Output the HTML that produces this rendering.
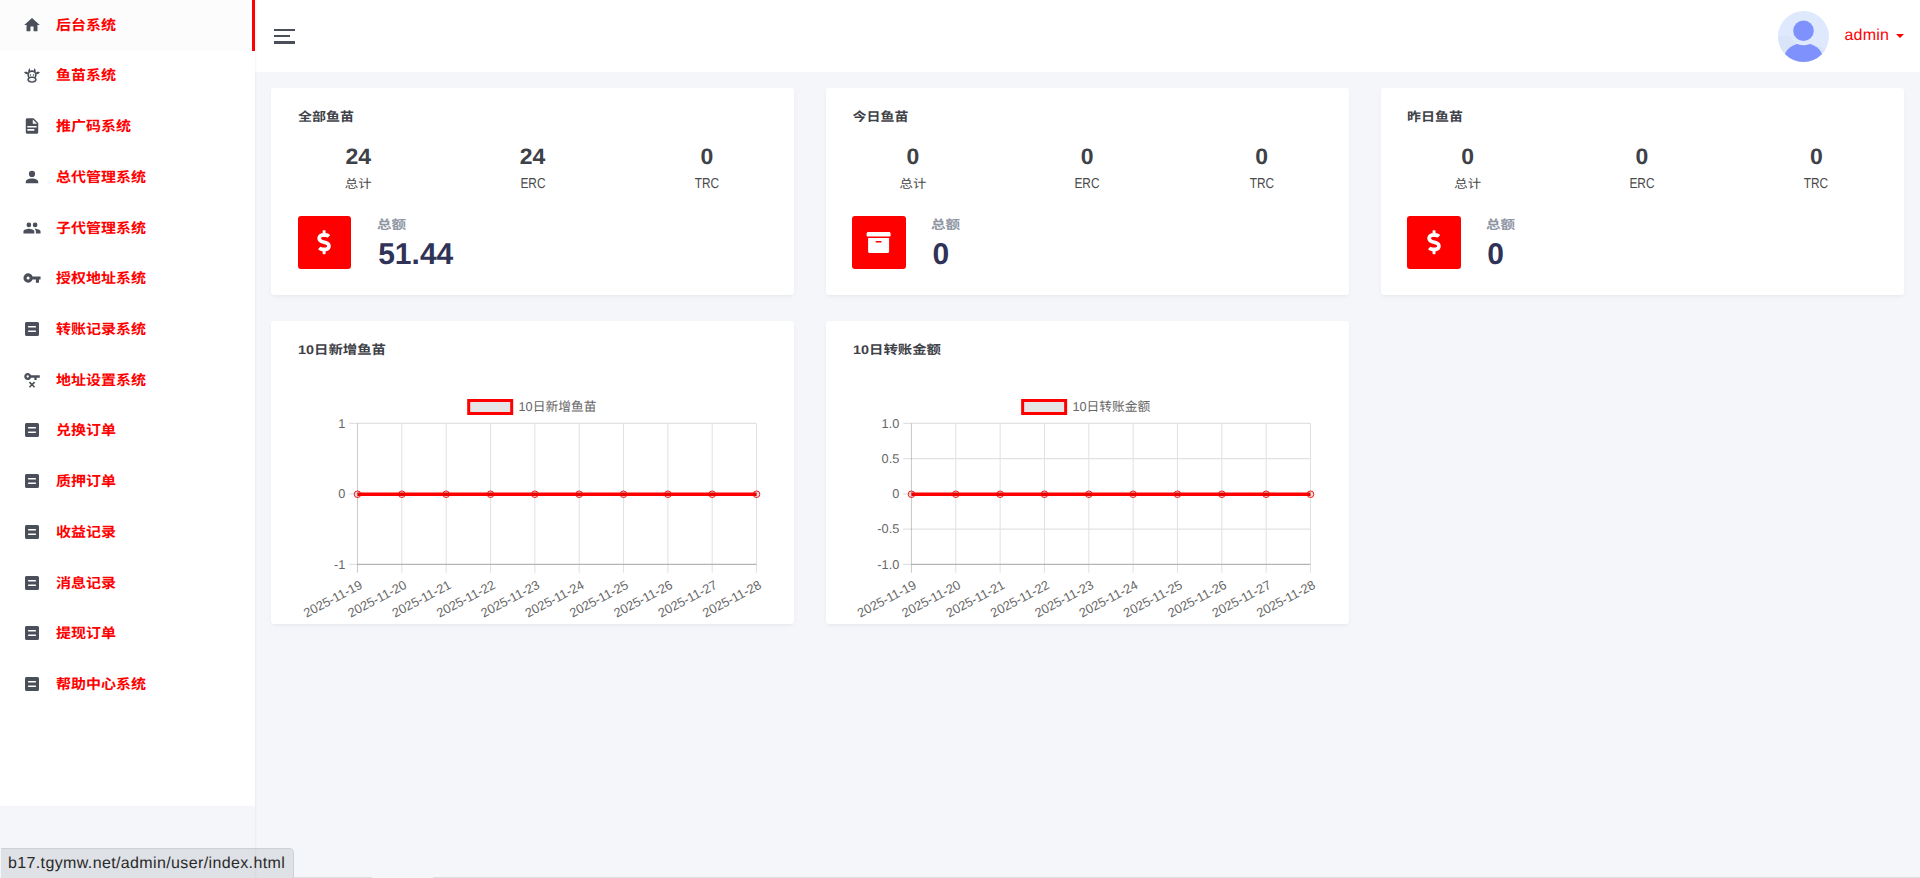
<!DOCTYPE html>
<html lang="zh-CN"><head><meta charset="utf-8"><title>后台系统</title>
<style>
*{box-sizing:border-box}
html,body{margin:0;padding:0}
body{width:1920px;height:878px;overflow:hidden;position:relative;background:#f4f6fa;
 font-family:"Liberation Sans","Noto Sans CJK SC",sans-serif;color:#3e4147;text-rendering:geometricPrecision}
.sidebar{position:absolute;left:0;top:0;width:255px;height:806px;background:#fff;z-index:2}
.sline{position:absolute;left:255px;top:0;width:4px;height:878px;z-index:3;background:linear-gradient(to right,rgba(60,60,80,.05) 0,rgba(60,60,80,.016) 37.5%,rgba(60,60,80,.005) 62.5%,rgba(60,60,80,0) 100%)}
.active-bg{position:absolute;left:0;top:0;width:255px;background:#fcfcfc;border-right:3px solid #ff0000}
.ic{position:absolute;display:block;overflow:visible}
.mi{position:absolute;left:56px;white-space:nowrap;font-weight:bold;font-size:15px;color:#ff0000;transform:scaleY(.94);transform-origin:0 36.5px}
.header{position:absolute;left:255px;top:0;width:1665px;height:72px;background:#fff}
.hb{position:absolute;background:#4a4f5a}
.admin{position:absolute;left:1589.5px;top:0;height:73.6px;line-height:71.6px;font-size:16px;letter-spacing:.18px;color:#ff0000;white-space:nowrap}
.caret{position:absolute;left:1641px;top:34px;width:0;height:0;border-left:4px solid transparent;border-right:4px solid transparent;border-top:4.5px solid #ff0000}
.card{position:absolute;background:#fff;border-radius:3px;box-shadow:0 2px 4px -1px rgba(50,55,70,.085)}
.ct{position:absolute;font-weight:bold;font-size:14px;line-height:20px;color:#3e4147;white-space:nowrap;transform:scale(1,.895);transform-origin:0 3px}
.num{position:absolute;width:120px;text-align:center;font-weight:bold;font-size:23px;line-height:28px;color:#3e4147;transform:scaleY(.97);transform-origin:50% 22px}
.lab{position:absolute;width:120px;text-align:center;font-size:13.4px;line-height:20px;color:#4a4a4a;transform:scaleY(.91);transform-origin:50% 17px}
.labl{font-size:13.6px;transform:scale(.875,1.06);transform-origin:50% 16px}
.ibox{position:absolute;width:53px;height:53px;border-radius:3px;background:#ff0000}
.tl{position:absolute;font-weight:bold;font-size:14px;line-height:20px;color:#8f96a3;white-space:nowrap;transform:scale(1.04,.9);transform-origin:0 3px}
.tv{position:absolute;font-weight:bold;font-size:30px;line-height:38px;color:#2f3357;white-space:nowrap;transform:scaleY(1.0);transform-origin:0 29px}
.status{position:absolute;left:1px;top:848px;width:293px;height:30px;background:#dee1e6;border-top:1px solid #cdd0d5;border-right:1px solid #cdd0d5;border-top-right-radius:5px;
 font-size:16px;letter-spacing:.37px;line-height:30.8px;padding-left:7px;color:#2a2a2a;overflow:hidden;white-space:nowrap}
.bl{position:absolute;top:877px;height:1px;background:#dcdee3}
</style></head>
<body>
<nav class="sidebar">
<div class="active-bg" style="height:50.71px"></div>
<svg class="ic" style="left:22px;top:15px" width="21" height="21" viewBox="-0.8576 -0.8576 26.9995 26.9995" preserveAspectRatio="none"><path fill="#4a4f5a" d="M10,20V14H14V20H19V12H22L12,3L2,12H5V20H10Z"/></svg>
<div class="mi" style="top:1.30px;height:50.7px;line-height:50.7px">后台系统</div>
<svg class="ic" style="left:22px;top:65px" width="21" height="21" viewBox="-0.8576 -0.8576 26.9995 26.9995" preserveAspectRatio="none"><path fill="#4a4f5a" d="M10.5,18A0.5,0.5 0 0,1 11,18.5A0.5,0.5 0 0,1 10.5,19A0.5,0.5 0 0,1 10,18.5A0.5,0.5 0 0,1 10.5,18M13.5,18A0.5,0.5 0 0,1 14,18.5A0.5,0.5 0 0,1 13.5,19A0.5,0.5 0 0,1 13,18.5A0.5,0.5 0 0,1 13.5,18M10,11A1,1 0 0,1 11,12A1,1 0 0,1 10,13A1,1 0 0,1 9,12A1,1 0 0,1 10,11M14,11A1,1 0 0,1 15,12A1,1 0 0,1 14,13A1,1 0 0,1 13,12A1,1 0 0,1 14,11M18,18C18,20.21 15.31,22 12,22C8.69,22 6,20.21 6,18C6,17.1 6.45,16.27 7.2,15.6C6.45,14.6 6,13.35 6,12L6.12,10.78C5.58,10.93 4.93,10.93 4.4,10.78C3.38,10.5 1.84,9.35 2.07,8.55C2.3,7.75 4.21,7.6 5.23,7.9C5.82,8.07 6.45,8.5 6.82,8.96L7.39,8.15C6.79,7.05 7,4 10,3L9.91,3.14V3.14C9.63,3.58 8.91,4.97 9.67,6.47C10.39,6.17 11.17,6 12,6C12.83,6 13.61,6.17 14.33,6.47C15.09,4.97 14.37,3.58 14.09,3.14L14,3C17,4 17.21,7.05 16.61,8.15L17.18,8.96C17.55,8.5 18.18,8.07 18.77,7.9C19.79,7.6 21.7,7.75 21.93,8.55C22.16,9.35 20.62,10.5 19.6,10.78C19.07,10.93 18.42,10.93 17.88,10.78L18,12C18,13.35 17.55,14.6 16.8,15.6C17.55,16.27 18,17.1 18,18M12,16C9.79,16 8,16.9 8,18C8,19.1 9.79,20 12,20C14.21,20 16,19.1 16,18C16,16.9 14.21,16 12,16M12,14C13.12,14 14.17,14.21 15.07,14.56C15.65,13.87 16,13 16,12A4,4 0 0,0 12,8A4,4 0 0,0 8,12C8,13 8.35,13.87 8.93,14.56C9.83,14.21 10.88,14 12,14Z"/></svg>
<div class="mi" style="top:51.30px;height:50.7px;line-height:50.7px">鱼苗系统</div>
<svg class="ic" style="left:22px;top:116px" width="21" height="21" viewBox="-0.8576 -0.8576 26.9995 26.9995" preserveAspectRatio="none"><path fill="#4a4f5a" d="M13,9H18.5L13,3.5V9M6,2H14L20,8V20A2,2 0 0,1 18,22H6C4.89,22 4,21.1 4,20V4C4,2.89 4.89,2 6,2M15,18V16H6V18H15M18,14V12H6V14H18Z"/></svg>
<div class="mi" style="top:102.30px;height:50.7px;line-height:50.7px">推广码系统</div>
<svg class="ic" style="left:22px;top:167px" width="21" height="21" viewBox="-0.8576 -0.8576 26.9995 26.9995" preserveAspectRatio="none"><path fill="#4a4f5a" d="M12,4A4,4 0 0,1 16,8A4,4 0 0,1 12,12A4,4 0 0,1 8,8A4,4 0 0,1 12,4M12,14C16.42,14 20,15.79 20,18V20H4V18C4,15.79 7.58,14 12,14Z"/></svg>
<div class="mi" style="top:153.30px;height:50.7px;line-height:50.7px">总代管理系统</div>
<svg class="ic" style="left:22px;top:218px" width="21" height="21" viewBox="-0.8576 -0.8576 26.9995 26.9995" preserveAspectRatio="none"><path fill="#4a4f5a" d="M16,13C15.71,13 15.38,13 15.03,13.05C16.19,13.89 17,15 17,16.5V19H23V16.5C23,14.17 18.33,13 16,13M8,13C5.67,13 1,14.17 1,16.5V19H15V16.5C15,14.17 10.33,13 8,13M8,11A3,3 0 0,0 11,8A3,3 0 0,0 8,5A3,3 0 0,0 5,8A3,3 0 0,0 8,11M16,11A3,3 0 0,0 19,8A3,3 0 0,0 16,5A3,3 0 0,0 13,8A3,3 0 0,0 16,11Z"/></svg>
<div class="mi" style="top:204.30px;height:50.7px;line-height:50.7px">子代管理系统</div>
<svg class="ic" style="left:22px;top:268px" width="21" height="21" viewBox="-0.8576 -0.8576 26.9995 26.9995" preserveAspectRatio="none"><path fill="#4a4f5a" d="M7,14A2,2 0 0,1 5,12A2,2 0 0,1 7,10A2,2 0 0,1 9,12A2,2 0 0,1 7,14M12.65,10C11.83,7.67 9.61,6 7,6A6,6 0 0,0 1,12A6,6 0 0,0 7,18C9.61,18 11.83,16.33 12.65,14H17V18H21V14H23V10H12.65Z"/></svg>
<div class="mi" style="top:254.30px;height:50.7px;line-height:50.7px">授权地址系统</div>
<svg class="ic" style="left:22px;top:319px" width="21" height="21" viewBox="-0.8576 -0.8576 26.9995 26.9995" preserveAspectRatio="none"><path fill="#4a4f5a" d="M17,16V14H7V16H17M19,3A2,2 0 0,1 21,5V19A2,2 0 0,1 19,21H5C3.89,21 3,20.1 3,19V5C3,3.89 3.89,3 5,3H19M17,10V8H7V10H17Z"/></svg>
<div class="mi" style="top:305.30px;height:50.7px;line-height:50.7px">转账记录系统</div>
<svg class="ic" style="left:22px;top:370px" width="21" height="21" viewBox="-0.8576 -0.8576 26.9995 26.9995" preserveAspectRatio="none"><path fill="#4a4f5a" d="M6.5,3C8.46,3 10.13,4.25 10.74,6H22V9H18V12H15V9H10.74C10.13,10.75 8.46,12 6.5,12C4,12 2,10 2,7.5C2,5 4,3 6.5,3M6.5,6A1.5,1.5 0 0,0 5,7.5A1.5,1.5 0 0,0 6.5,9A1.5,1.5 0 0,0 8,7.5A1.5,1.5 0 0,0 6.5,6M14.59,14L16,15.41L13.41,18L16,20.59L14.59,22L12,19.41L9.41,22L8,20.59L10.59,18L8,15.41L9.41,14L12,16.59L14.59,14Z"/></svg>
<div class="mi" style="top:356.30px;height:50.7px;line-height:50.7px">地址设置系统</div>
<svg class="ic" style="left:22px;top:420px" width="21" height="21" viewBox="-0.8576 -0.8576 26.9995 26.9995" preserveAspectRatio="none"><path fill="#4a4f5a" d="M17,16V14H7V16H17M19,3A2,2 0 0,1 21,5V19A2,2 0 0,1 19,21H5C3.89,21 3,20.1 3,19V5C3,3.89 3.89,3 5,3H19M17,10V8H7V10H17Z"/></svg>
<div class="mi" style="top:406.30px;height:50.7px;line-height:50.7px">兑换订单</div>
<svg class="ic" style="left:22px;top:471px" width="21" height="21" viewBox="-0.8576 -0.8576 26.9995 26.9995" preserveAspectRatio="none"><path fill="#4a4f5a" d="M17,16V14H7V16H17M19,3A2,2 0 0,1 21,5V19A2,2 0 0,1 19,21H5C3.89,21 3,20.1 3,19V5C3,3.89 3.89,3 5,3H19M17,10V8H7V10H17Z"/></svg>
<div class="mi" style="top:457.30px;height:50.7px;line-height:50.7px">质押订单</div>
<svg class="ic" style="left:22px;top:522px" width="21" height="21" viewBox="-0.8576 -0.8576 26.9995 26.9995" preserveAspectRatio="none"><path fill="#4a4f5a" d="M17,16V14H7V16H17M19,3A2,2 0 0,1 21,5V19A2,2 0 0,1 19,21H5C3.89,21 3,20.1 3,19V5C3,3.89 3.89,3 5,3H19M17,10V8H7V10H17Z"/></svg>
<div class="mi" style="top:508.30px;height:50.7px;line-height:50.7px">收益记录</div>
<svg class="ic" style="left:22px;top:573px" width="21" height="21" viewBox="-0.8576 -0.8576 26.9995 26.9995" preserveAspectRatio="none"><path fill="#4a4f5a" d="M17,16V14H7V16H17M19,3A2,2 0 0,1 21,5V19A2,2 0 0,1 19,21H5C3.89,21 3,20.1 3,19V5C3,3.89 3.89,3 5,3H19M17,10V8H7V10H17Z"/></svg>
<div class="mi" style="top:559.30px;height:50.7px;line-height:50.7px">消息记录</div>
<svg class="ic" style="left:22px;top:623px" width="21" height="21" viewBox="-0.8576 -0.8576 26.9995 26.9995" preserveAspectRatio="none"><path fill="#4a4f5a" d="M17,16V14H7V16H17M19,3A2,2 0 0,1 21,5V19A2,2 0 0,1 19,21H5C3.89,21 3,20.1 3,19V5C3,3.89 3.89,3 5,3H19M17,10V8H7V10H17Z"/></svg>
<div class="mi" style="top:609.30px;height:50.7px;line-height:50.7px">提现订单</div>
<svg class="ic" style="left:22px;top:674px" width="21" height="21" viewBox="-0.8576 -0.8576 26.9995 26.9995" preserveAspectRatio="none"><path fill="#4a4f5a" d="M17,16V14H7V16H17M19,3A2,2 0 0,1 21,5V19A2,2 0 0,1 19,21H5C3.89,21 3,20.1 3,19V5C3,3.89 3.89,3 5,3H19M17,10V8H7V10H17Z"/></svg>
<div class="mi" style="top:660.30px;height:50.7px;line-height:50.7px">帮助中心系统</div>
</nav>
<header class="header">
<div class="hb" style="left:19px;top:29px;width:21px;height:2px"></div>
<div class="hb" style="left:19px;top:35px;width:16px;height:2px"></div>
<div class="hb" style="left:19px;top:41px;width:21px;height:3px"></div>
<svg class="ic" style="left:1523px;top:11px;border-radius:50%;overflow:hidden" width="51" height="51" viewBox="0 0 51 51">
<g><rect width="51" height="51" fill="#dfe9fd"/>
<path d="M0,26 C14,20 34,32 51,40 L51,51 L0,51Z" fill="#d9e4f9"/>
<ellipse cx="25.5" cy="47.6" rx="19.4" ry="15.6" fill="#7f91fd"/>
<circle cx="25.5" cy="19.7" r="14.6" fill="#dfe9fd"/>
<circle cx="25.5" cy="19.7" r="10.3" fill="#7f91fd"/></g></svg>
<div class="admin">admin</div>
<div class="caret"></div>
</header>
<div class="card" style="left:271px;top:88px;width:523px;height:207px">
<div class="ct" style="left:27.00px;top:19px">全部鱼苗</div>
<div class="num" style="left:27.2px;top:54px">24</div>
<div class="lab" style="left:27.2px;top:86.2px">总计</div>
<div class="num" style="left:201.5px;top:54px">24</div>
<div class="lab labl" style="left:201.5px;top:86.2px">ERC</div>
<div class="num" style="left:375.9px;top:54px">0</div>
<div class="lab labl" style="left:375.9px;top:86.2px">TRC</div>
<div class="ibox" style="left:27px;top:128px;width:53px"></div>
<svg class="ic" style="left:46px;top:142px" width="15" height="26" viewBox="-7.4667 -4.2667 320.0000 554.6667" preserveAspectRatio="none"><path fill="#fff" d="M209.2 233.4l-108-31.6C88.7 198.2 80 186.5 80 173.5c0-16.3 13.2-29.5 29.5-29.5h66.3c12.2 0 24.2 3.7 34.2 10.5 6.1 4.1 14.3 3.1 19.5-2l34.8-34c7.1-6.9 6.1-18.4-1.8-24.5C238 74.8 207.4 64.1 176 64V16c0-8.8-7.2-16-16-16h-32c-8.8 0-16 7.2-16 16v48h-2.5C45.8 64-5.4 118.7.5 183.6c4.2 46.1 39.4 83.6 83.8 96.6l102.5 30c12.5 3.7 21.2 15.3 21.2 28.3 0 16.3-13.2 29.5-29.5 29.5h-66.3C100 368 88 364.3 78 357.5c-6.1-4.1-14.3-3.1-19.5 2l-34.8 34c-7.1 6.9-6.1 18.4 1.8 24.5 24.5 19.2 55.1 29.9 86.5 30v48c0 8.8 7.2 16 16 16h32c8.8 0 16-7.2 16-16v-48.2c46.6-.9 90.3-28.6 105.7-72.7 21.5-61.6-14.6-124.8-72.5-141.7z"/></svg>
<div class="tl" style="left:105.60px;top:126.5px">总额</div>
<div class="tv" style="left:107.20px;top:147.9px">51.44</div>
</div>
<div class="card" style="left:826px;top:88px;width:523px;height:207px">
<div class="ct" style="left:26.40px;top:19px">今日鱼苗</div>
<div class="num" style="left:26.9px;top:54px">0</div>
<div class="lab" style="left:26.9px;top:86.2px">总计</div>
<div class="num" style="left:201.2px;top:54px">0</div>
<div class="lab labl" style="left:201.2px;top:86.2px">ERC</div>
<div class="num" style="left:375.6px;top:54px">0</div>
<div class="lab labl" style="left:375.6px;top:86.2px">TRC</div>
<div class="ibox" style="left:26px;top:128px;width:54px"></div>
<svg class="ic" style="left:40px;top:142px" width="26" height="26" viewBox="-12.8000 -10.6667 554.6667 554.6667" preserveAspectRatio="none"><path fill="#fff" d="M32 448c0 17.7 14.3 32 32 32h384c17.7 0 32-14.3 32-32V160H32v288zm160-212c0-6.6 5.4-12 12-12h104c6.6 0 12 5.4 12 12v8c0 6.6-5.4 12-12 12H204c-6.6 0-12-5.4-12-12v-8zM480 32H32C14.3 32 0 46.3 0 64v48c0 8.8 7.2 16 16 16h480c8.8 0 16-7.2 16-16V64c0-17.7-14.3-32-32-32z"/></svg>
<div class="tl" style="left:105.00px;top:126.5px">总额</div>
<div class="tv" style="left:106.60px;top:147.9px">0</div>
</div>
<div class="card" style="left:1381px;top:88px;width:523px;height:207px">
<div class="ct" style="left:26.00px;top:19px">昨日鱼苗</div>
<div class="num" style="left:26.7px;top:54px">0</div>
<div class="lab" style="left:26.7px;top:86.2px">总计</div>
<div class="num" style="left:201.0px;top:54px">0</div>
<div class="lab labl" style="left:201.0px;top:86.2px">ERC</div>
<div class="num" style="left:375.4px;top:54px">0</div>
<div class="lab labl" style="left:375.4px;top:86.2px">TRC</div>
<div class="ibox" style="left:26px;top:128px;width:54px"></div>
<svg class="ic" style="left:46px;top:142px" width="15" height="26" viewBox="-6.4000 -4.2667 320.0000 554.6667" preserveAspectRatio="none"><path fill="#fff" d="M209.2 233.4l-108-31.6C88.7 198.2 80 186.5 80 173.5c0-16.3 13.2-29.5 29.5-29.5h66.3c12.2 0 24.2 3.7 34.2 10.5 6.1 4.1 14.3 3.1 19.5-2l34.8-34c7.1-6.9 6.1-18.4-1.8-24.5C238 74.8 207.4 64.1 176 64V16c0-8.8-7.2-16-16-16h-32c-8.8 0-16 7.2-16 16v48h-2.5C45.8 64-5.4 118.7.5 183.6c4.2 46.1 39.4 83.6 83.8 96.6l102.5 30c12.5 3.7 21.2 15.3 21.2 28.3 0 16.3-13.2 29.5-29.5 29.5h-66.3C100 368 88 364.3 78 357.5c-6.1-4.1-14.3-3.1-19.5 2l-34.8 34c-7.1 6.9-6.1 18.4 1.8 24.5 24.5 19.2 55.1 29.9 86.5 30v48c0 8.8 7.2 16 16 16h32c8.8 0 16-7.2 16-16v-48.2c46.6-.9 90.3-28.6 105.7-72.7 21.5-61.6-14.6-124.8-72.5-141.7z"/></svg>
<div class="tl" style="left:104.60px;top:126.5px">总额</div>
<div class="tv" style="left:106.20px;top:147.9px">0</div>
</div>
<div class="card" style="left:271px;top:321px;width:523px;height:303px">
<div class="ct" style="left:27px;top:18.5px;transform:scale(1.028,.895)">10日新增鱼苗</div>
<svg class="ic" style="left:0;top:0" width="523" height="303" viewBox="0 0 523 303" font-size="12.75" fill="#666">
<path d="M78.10,102.40H485.55M78.10,172.90H485.55M78.10,243.40H485.55M130.84,102.40V251.80M175.18,102.40V251.80M219.52,102.40V251.80M263.86,102.40V251.80M308.19,102.40V251.80M352.53,102.40V251.80M396.87,102.40V251.80M441.21,102.40V251.80M485.55,102.40V251.80" stroke="#000" stroke-opacity=".115" stroke-width="1.06" fill="none"/>
<path d="M86.50,102.40V251.80M86.50,243.40H485.55" stroke="#000" stroke-opacity=".2" stroke-width="1.06" fill="none"/>
<text x="74.40" y="106.50" text-anchor="end">1</text>
<text x="74.40" y="177.00" text-anchor="end">0</text>
<text x="74.40" y="247.50" text-anchor="end">-1</text>
<text transform="translate(92.25,266.70) rotate(-27.8)" text-anchor="end">2025-11-19</text>
<text transform="translate(136.59,266.70) rotate(-27.8)" text-anchor="end">2025-11-20</text>
<text transform="translate(180.93,266.70) rotate(-27.8)" text-anchor="end">2025-11-21</text>
<text transform="translate(225.27,266.70) rotate(-27.8)" text-anchor="end">2025-11-22</text>
<text transform="translate(269.61,266.70) rotate(-27.8)" text-anchor="end">2025-11-23</text>
<text transform="translate(313.94,266.70) rotate(-27.8)" text-anchor="end">2025-11-24</text>
<text transform="translate(358.28,266.70) rotate(-27.8)" text-anchor="end">2025-11-25</text>
<text transform="translate(402.62,266.70) rotate(-27.8)" text-anchor="end">2025-11-26</text>
<text transform="translate(446.96,266.70) rotate(-27.8)" text-anchor="end">2025-11-27</text>
<text transform="translate(491.30,266.70) rotate(-27.8)" text-anchor="end">2025-11-28</text>
<path d="M86.50,173.25H485.55" stroke="#ff0000" stroke-width="3.4" fill="none"/>
<circle cx="86.50" cy="173.25" r="3.3" fill="#000" fill-opacity=".1" stroke="#ff0000" stroke-width=".9"/>
<circle cx="130.84" cy="173.25" r="3.3" fill="#000" fill-opacity=".1" stroke="#ff0000" stroke-width=".9"/>
<circle cx="175.18" cy="173.25" r="3.3" fill="#000" fill-opacity=".1" stroke="#ff0000" stroke-width=".9"/>
<circle cx="219.52" cy="173.25" r="3.3" fill="#000" fill-opacity=".1" stroke="#ff0000" stroke-width=".9"/>
<circle cx="263.86" cy="173.25" r="3.3" fill="#000" fill-opacity=".1" stroke="#ff0000" stroke-width=".9"/>
<circle cx="308.19" cy="173.25" r="3.3" fill="#000" fill-opacity=".1" stroke="#ff0000" stroke-width=".9"/>
<circle cx="352.53" cy="173.25" r="3.3" fill="#000" fill-opacity=".1" stroke="#ff0000" stroke-width=".9"/>
<circle cx="396.87" cy="173.25" r="3.3" fill="#000" fill-opacity=".1" stroke="#ff0000" stroke-width=".9"/>
<circle cx="441.21" cy="173.25" r="3.3" fill="#000" fill-opacity=".1" stroke="#ff0000" stroke-width=".9"/>
<circle cx="485.55" cy="173.25" r="3.3" fill="#000" fill-opacity=".1" stroke="#ff0000" stroke-width=".9"/>
<rect x="197.70" y="79.50" width="43" height="13" fill="#e5e5e5" stroke="#ff0000" stroke-width="3"/>
<text x="247.50" y="90.10">10日新增鱼苗</text>
</svg></div>
<div class="card" style="left:826px;top:321px;width:523px;height:303px">
<div class="ct" style="left:27px;top:18.5px;transform:scale(1.028,.895)">10日转账金额</div>
<svg class="ic" style="left:0;top:0" width="523" height="303" viewBox="0 0 523 303" font-size="12.75" fill="#666">
<path d="M77.05,102.40H484.50M77.05,137.65H484.50M77.05,172.90H484.50M77.05,208.15H484.50M77.05,243.40H484.50M129.79,102.40V251.80M174.13,102.40V251.80M218.47,102.40V251.80M262.81,102.40V251.80M307.14,102.40V251.80M351.48,102.40V251.80M395.82,102.40V251.80M440.16,102.40V251.80M484.50,102.40V251.80" stroke="#000" stroke-opacity=".115" stroke-width="1.06" fill="none"/>
<path d="M85.45,102.40V251.80M85.45,243.40H484.50" stroke="#000" stroke-opacity=".2" stroke-width="1.06" fill="none"/>
<text x="73.35" y="106.50" text-anchor="end">1.0</text>
<text x="73.35" y="141.75" text-anchor="end">0.5</text>
<text x="73.35" y="177.00" text-anchor="end">0</text>
<text x="73.35" y="212.25" text-anchor="end">-0.5</text>
<text x="73.35" y="247.50" text-anchor="end">-1.0</text>
<text transform="translate(91.20,266.70) rotate(-27.8)" text-anchor="end">2025-11-19</text>
<text transform="translate(135.54,266.70) rotate(-27.8)" text-anchor="end">2025-11-20</text>
<text transform="translate(179.88,266.70) rotate(-27.8)" text-anchor="end">2025-11-21</text>
<text transform="translate(224.22,266.70) rotate(-27.8)" text-anchor="end">2025-11-22</text>
<text transform="translate(268.56,266.70) rotate(-27.8)" text-anchor="end">2025-11-23</text>
<text transform="translate(312.89,266.70) rotate(-27.8)" text-anchor="end">2025-11-24</text>
<text transform="translate(357.23,266.70) rotate(-27.8)" text-anchor="end">2025-11-25</text>
<text transform="translate(401.57,266.70) rotate(-27.8)" text-anchor="end">2025-11-26</text>
<text transform="translate(445.91,266.70) rotate(-27.8)" text-anchor="end">2025-11-27</text>
<text transform="translate(490.25,266.70) rotate(-27.8)" text-anchor="end">2025-11-28</text>
<path d="M85.45,173.25H484.50" stroke="#ff0000" stroke-width="3.4" fill="none"/>
<circle cx="85.45" cy="173.25" r="3.3" fill="#000" fill-opacity=".1" stroke="#ff0000" stroke-width=".9"/>
<circle cx="129.79" cy="173.25" r="3.3" fill="#000" fill-opacity=".1" stroke="#ff0000" stroke-width=".9"/>
<circle cx="174.13" cy="173.25" r="3.3" fill="#000" fill-opacity=".1" stroke="#ff0000" stroke-width=".9"/>
<circle cx="218.47" cy="173.25" r="3.3" fill="#000" fill-opacity=".1" stroke="#ff0000" stroke-width=".9"/>
<circle cx="262.81" cy="173.25" r="3.3" fill="#000" fill-opacity=".1" stroke="#ff0000" stroke-width=".9"/>
<circle cx="307.14" cy="173.25" r="3.3" fill="#000" fill-opacity=".1" stroke="#ff0000" stroke-width=".9"/>
<circle cx="351.48" cy="173.25" r="3.3" fill="#000" fill-opacity=".1" stroke="#ff0000" stroke-width=".9"/>
<circle cx="395.82" cy="173.25" r="3.3" fill="#000" fill-opacity=".1" stroke="#ff0000" stroke-width=".9"/>
<circle cx="440.16" cy="173.25" r="3.3" fill="#000" fill-opacity=".1" stroke="#ff0000" stroke-width=".9"/>
<circle cx="484.50" cy="173.25" r="3.3" fill="#000" fill-opacity=".1" stroke="#ff0000" stroke-width=".9"/>
<rect x="196.65" y="79.50" width="43" height="13" fill="#e5e5e5" stroke="#ff0000" stroke-width="3"/>
<text x="246.45" y="90.10">10日转账金额</text>
</svg></div>
<div class="bl" style="left:294px;width:78px"></div><div class="bl" style="left:433px;width:1487px"></div>
<div class="sline"></div><div class="status">b17.tgymw.net/admin/user/index.html</div>
</body></html>
